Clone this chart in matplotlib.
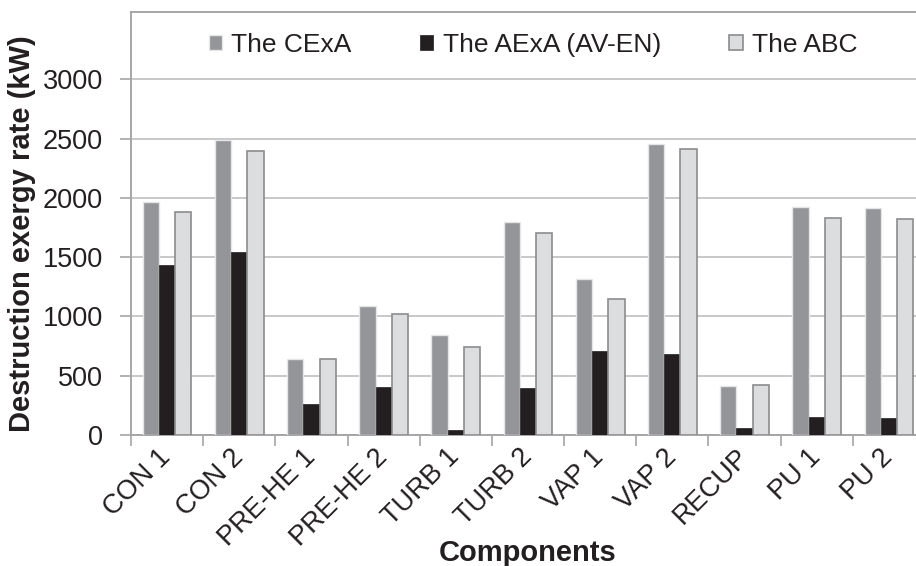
import matplotlib
matplotlib.use("Agg")
import matplotlib.pyplot as plt
import numpy as np

categories = ["CON 1", "CON 2", "PRE-HE 1", "PRE-HE 2", "TURB 1", "TURB 2",
              "VAP 1", "VAP 2", "RECUP", "PU 1", "PU 2"]
cexa = [1968, 2488, 638, 1088, 841, 1799, 1316, 2454, 416, 1920, 1912]
aexa = [1434, 1546, 259, 402, 45, 396, 711, 683, 59, 155, 146]
abc = [1878, 2395, 644, 1023, 745, 1706, 1150, 2410, 419, 1828, 1819]
series_names = ["The CExA", "The AExA (AV-EN)", "The ABC"]
yticks = [0, 500, 1000, 1500, 2000, 2500, 3000]

plt.rcParams['font.family'] = ['Liberation Sans', 'DejaVu Sans']

fig = plt.figure(figsize=(9.16, 5.66), dpi=100)
ax = fig.add_axes([131/916, 1-435/566, 794/916, 423/566])

x = np.arange(len(categories))
w = 0.225
ax.bar(x - w, cexa, w, color="#939598", edgecolor="#e6e6e6", linewidth=1.0,
       label=series_names[0], zorder=3)
ax.bar(x, aexa, w, color="#231f20", edgecolor="#231f20", linewidth=0.5,
       label=series_names[1], zorder=3)
ax.bar(x + w, abc, w, color="#dcdddf", edgecolor="#8c8c8e", linewidth=1.2,
       label=series_names[2], zorder=3)

ax.set_xlim(-0.5, len(categories) - 0.5)
ax.set_ylim(0, 3567)
ax.set_yticks(yticks)
ax.set_yticklabels([str(v) for v in yticks], fontsize=19.5, color="#231f20")
ax.yaxis.grid(True, color="#c8c8c8", linewidth=1.4, zorder=0)
ax.set_axisbelow(True)

ax.set_xticks(x)
ax.set_xticklabels(categories, rotation=45, ha="right", va="center",
                   rotation_mode="anchor", fontsize=19.5, color="#231f20")
ax.set_xticks(np.arange(-0.5, len(categories)), minor=True)
ax.tick_params(axis="x", which="major", length=0, pad=13)
ax.tick_params(axis="x", which="minor", length=8, width=1.2, color="#a6a6a6")
ax.tick_params(axis="y", length=8, width=1.2, color="#a6a6a6", pad=12)

for s in ["left", "bottom", "top", "right"]:
    ax.spines[s].set_color("#a6a6a6")
    ax.spines[s].set_linewidth(1.4)

ax.set_ylabel("Destruction exergy rate (kW)", fontsize=21, fontweight="bold",
              color="#231f20")
ax.yaxis.set_label_coords(-0.1196, 0.475)
fig.text(528/916, 1-553/566, "Components", fontsize=21, fontweight="bold",
         color="#231f20", ha="center", va="center")

leg = ax.legend(loc="center", bbox_to_anchor=(533/916, 1-45/566),
                bbox_transform=fig.transFigure, ncol=3, frameon=False,
                fontsize=19, handlelength=0.5, handleheight=0.5,
                handletextpad=0.35, columnspacing=2.6, borderpad=0)
for t in leg.get_texts():
    t.set_color("#231f20")

fig.savefig("out.png", dpi=100)
